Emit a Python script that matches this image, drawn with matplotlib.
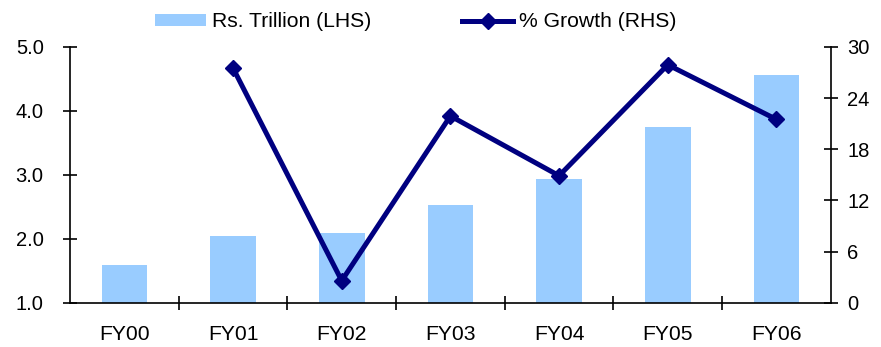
import matplotlib.pyplot as plt
import numpy as np

plt.rcParams['font.family'] = ['Liberation Sans', 'DejaVu Sans']

years = ['FY00', 'FY01', 'FY02', 'FY03', 'FY04', 'FY05', 'FY06']
trillion = [1.6, 2.04, 2.1, 2.53, 2.94, 3.75, 4.56]
growth = [None, 27.5, 2.6, 21.9, 14.9, 27.9, 21.5]

fig = plt.figure(figsize=(8.81, 3.47), dpi=100)
ax = fig.add_axes([0.0795, 0.127, 0.8635, 0.738])
x = np.arange(len(years))

bars = ax.bar(x, np.array(trillion) - 1.0, bottom=1.0, width=0.42,
              color='#99CCFF', label='Rs. Trillion (LHS)', zorder=2)
ax.set_ylim(1.0, 5.0)
ax.set_yticks([1.0, 2.0, 3.0, 4.0, 5.0])
ax.set_yticklabels(['%.1f' % v for v in [1.0, 2.0, 3.0, 4.0, 5.0]])
ax.set_xlim(-0.5, len(years) - 0.5)

# category labels centered, ticks between categories
ax.set_xticks(x)
ax.set_xticklabels(years)
ax.set_xticks(np.arange(0.5, len(years) - 0.5), minor=True)
ax.tick_params(axis='x', which='major', length=0, pad=16, labelsize=15.2)
ax.tick_params(axis='x', which='minor', direction='inout', length=9.5, width=1.2)
ax.tick_params(axis='y', direction='inout', length=10, width=1.2, pad=14,
               labelsize=14.5)
for s in ['top', 'right']:
    ax.spines[s].set_visible(False)
for s in ['left', 'bottom']:
    ax.spines[s].set_linewidth(1.2)

ax2 = ax.twinx()
gx = [i for i, g in enumerate(growth) if g is not None]
gy = [g for g in growth if g is not None]
line, = ax2.plot(gx, gy, color='#000080', lw=3.6, marker='D', markersize=8,
                 label='% Growth (RHS)', zorder=3)
ax2.set_ylim(0, 30)
ax2.set_yticks([0, 6, 12, 18, 24, 30])
ax2.tick_params(axis='y', direction='inout', length=10, width=1.2,
                labelsize=14.5, pad=7)
for s in ['top', 'left', 'bottom']:
    ax2.spines[s].set_visible(False)
ax2.spines['right'].set_linewidth(1.2)

fig.legend([bars, line], ['Rs. Trillion (LHS)', '% Growth (RHS)'],
           loc='center left', bbox_to_anchor=(0.154, 0.937), ncol=2,
           frameon=False, fontsize=15.2, handlelength=2.45, handleheight=0.5,
           columnspacing=4.3, handletextpad=0.25)

fig.savefig('out.png', dpi=100)
